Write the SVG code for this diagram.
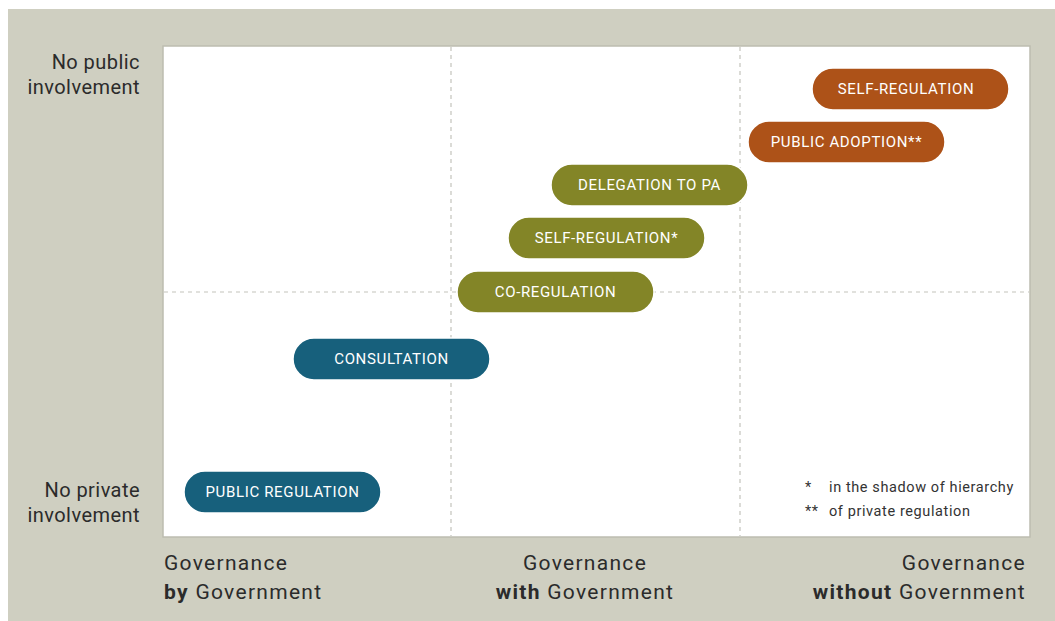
<svg xmlns="http://www.w3.org/2000/svg" width="1055" height="621" viewBox="0 0 1055 621">
<style>
.lbl{font-family:Roboto,"Liberation Sans",sans-serif;font-size:20px;fill:#2b2b2b;letter-spacing:0.45px;}
.ax{font-family:Roboto,"Liberation Sans",sans-serif;font-size:21px;fill:#2b2b2b;letter-spacing:1.3px;}
.b{font-weight:bold;}
.pill{stroke:#ffffff;stroke-width:1.5;}
.pt{font-family:Roboto,"Liberation Sans",sans-serif;font-size:15px;fill:#ffffff;text-anchor:middle;letter-spacing:0.65px;}
.fn{font-family:Roboto,"Liberation Sans",sans-serif;font-size:14.5px;fill:#333333;letter-spacing:0.6px;}
.dash{stroke:#c4c4bc;stroke-width:1.2;stroke-dasharray:4 4;fill:none;}
.teal{fill:#17607c;}
.olive{fill:#838527;}
.orange{fill:#ad5218;}
</style>
<rect x="0" y="0" width="1055" height="621" fill="#ffffff"/>
<rect x="8" y="9" width="1047" height="612" fill="#cfcfc1"/>
<rect x="163" y="46" width="867" height="491" fill="#ffffff" stroke="#bdbdb0" stroke-width="1.5"/>
<g id="grid">
<line class="dash" x1="451" y1="47" x2="451" y2="536"/>
<line class="dash" x1="740" y1="47" x2="740" y2="536"/>
<line class="dash" x1="164" y1="292" x2="1029" y2="292"/>
</g>
<g id="yaxis">
<text class="lbl" text-anchor="end" x="140" y="69">No public</text>
<text class="lbl" text-anchor="end" x="140" y="94">involvement</text>
<text class="lbl" text-anchor="end" x="140" y="497">No private</text>
<text class="lbl" text-anchor="end" x="140" y="522">involvement</text>
</g>
<g id="xaxis">
<text class="ax" x="164" y="570">Governance</text>
<text class="ax" x="164" y="599"><tspan class="b">by</tspan> Government</text>
<text class="ax" text-anchor="middle" x="585" y="570">Governance</text>
<text class="ax" text-anchor="middle" x="585" y="599"><tspan class="b">with</tspan> Government</text>
<text class="ax" text-anchor="end" x="1026" y="570">Governance</text>
<text class="ax" text-anchor="end" x="1026" y="599"><tspan class="b">without</tspan> Government</text>
</g>
<g id="public-regulation">
<rect class="pill teal" x="184" y="471" width="197" height="42" rx="21"/>
<text class="pt" x="282.5" y="497">PUBLIC REGULATION</text>
</g>
<g id="consultation">
<rect class="pill teal" x="293" y="338" width="197" height="42" rx="21"/>
<text class="pt" x="391.5" y="364">CONSULTATION</text>
</g>
<g id="co-regulation">
<rect class="pill olive" x="457" y="271" width="197" height="42" rx="21"/>
<text class="pt" x="555.5" y="297">CO-REGULATION</text>
</g>
<g id="self-regulation-star">
<rect class="pill olive" x="508" y="217" width="197" height="42" rx="21"/>
<text class="pt" x="606.5" y="243">SELF-REGULATION*</text>
</g>
<g id="delegation">
<rect class="pill olive" x="551" y="164" width="197" height="42" rx="21"/>
<text class="pt" x="649.5" y="190">DELEGATION TO PA</text>
</g>
<g id="public-adoption">
<rect class="pill orange" x="748" y="121" width="197" height="42" rx="21"/>
<text class="pt" x="846.5" y="147">PUBLIC ADOPTION**</text>
</g>
<g id="self-regulation">
<rect class="pill orange" x="812" y="68" width="197" height="42" rx="21"/>
<text class="pt" x="906" y="94">SELF-REGULATION</text>
</g>
<g id="footnotes">
<text class="fn" x="805" y="492">*</text>
<text class="fn" x="829" y="492">in the shadow of hierarchy</text>
<text class="fn" x="805" y="516">**</text>
<text class="fn" x="829" y="516">of private regulation</text>
</g>
</svg>
